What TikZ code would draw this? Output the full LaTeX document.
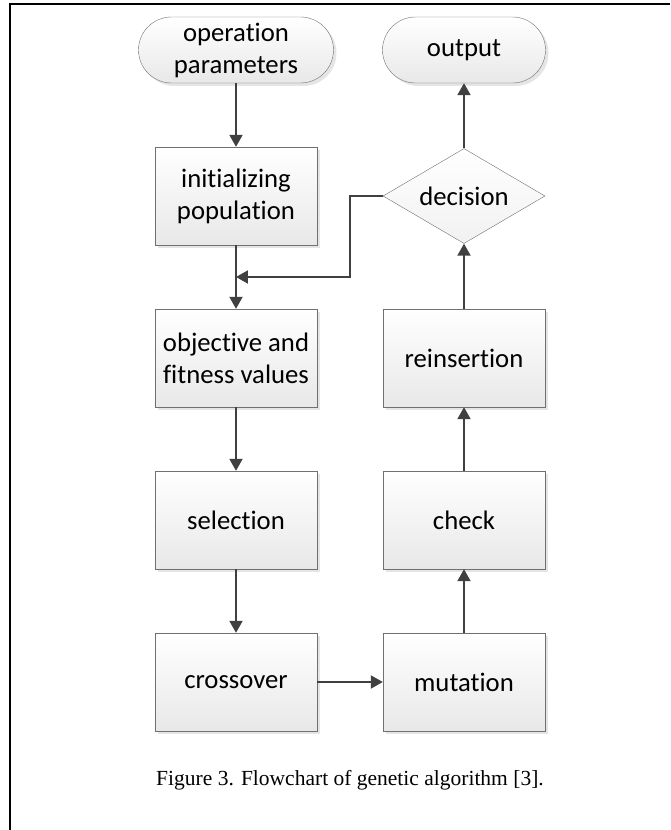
\documentclass[tikz,border=0pt]{standalone}
\usepackage{fontspec}
\setmainfont{Carlito}[RawFeature={-liga;-clig;-calt;-dlig}]
\newfontfamily\captionfont{Liberation Serif}
\usepackage{tikz}
\usetikzlibrary{calc, shapes.geometric, arrows.meta, shadows}
\definecolor{boxline}{HTML}{707070}
\definecolor{boxfill}{HTML}{E8E8E8}
\definecolor{arrowgray}{HTML}{404040}
\tikzstyle{startstop} = [rectangle, rounded corners=33pt, minimum height=66pt, inner sep=2pt, align=center, draw=boxline, top color=white, bottom color=boxfill, general shadow={fill=black!10, shadow xshift=3pt, shadow yshift=-3pt}]
\tikzstyle{process}   = [rectangle, minimum width=162pt, minimum height=98pt, align=center, draw=boxline, top color=white, bottom color=boxfill, general shadow={fill=black!10, shadow xshift=3pt, shadow yshift=-3pt}]
\tikzstyle{decision}  = [diamond, aspect=1.7, minimum width=162pt, minimum height=95pt, inner sep=0pt, draw=boxline, top color=white, bottom color=boxfill!60]
\tikzstyle{arrow}     = [line width=2pt, draw=arrowgray, -{Triangle[length=12pt, width=13pt]}]

\begin{document}
\begin{tikzpicture}[x=1pt, y=1pt, node distance=162pt, font=\fontsize{26.7pt}{32pt}\selectfont]
    \useasboundingbox (-236,-634) rectangle (434,196);
    % page frame
    \draw [line width=2.5pt] (434,192) -- (-226,192) -- (-226,-634);

    \node (init)   [process] {initializing\\population};
    \node (params) [startstop, minimum width=195pt, above of=init, yshift=-16pt] {operation\\parameters};
    \node (obj)    [process, below of=init] {objective and\\fitness values};
    \node (sel)    [process, below of=obj] {selection};
    \node (cross)  [process, below of=sel] {crossover};
    \node (mut)    [process, right of=cross, xshift=66pt] {mutation};
    \node (check)  [process, above of=mut] {check};
    \node (reins)  [process, above of=check] {reinsertion};
    \node (dec)    [decision, above of=reins] {decision};
    \node (out)    [startstop, minimum width=163pt, above of=dec, yshift=-16pt] {output};
    \node (caption) at (114,-584) {\captionfont\fontsize{21.5pt}{26pt}\selectfont Figure 3. Flowchart of genetic algorithm [3].};

    % arrows
    \draw [arrow] (params) -- (init);
    \draw [arrow] (init)   -- (obj);
    \draw [arrow] (obj)    -- (sel);
    \draw [arrow] (sel)    -- (cross);
    \draw [arrow] (cross)  -- (mut);
    \draw [arrow] (mut)    -- (check);
    \draw [arrow] (check)  -- (reins);
    \draw [arrow] (reins)  -- (dec);
    \draw [arrow] (dec)    -- (out);
    \draw [arrow] (dec.west) -- ++(-33,0) |- ($(init.south)!0.5!(obj.north)$);
\end{tikzpicture}
\end{document}
